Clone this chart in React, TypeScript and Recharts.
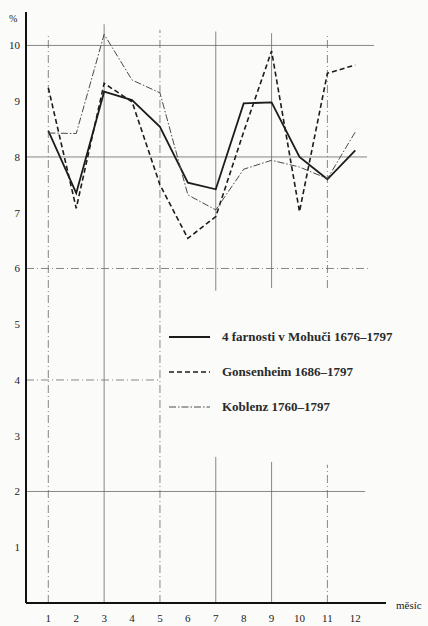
import { LineChart, Line, XAxis, YAxis, ReferenceLine } from 'recharts'

const months = [1, 2, 3, 4, 5, 6, 7, 8, 9, 10, 11, 12]
const mohuc = [8.47, 7.35, 9.17, 9.02, 8.54, 7.54, 7.42, 8.96, 8.98, 8.0, 7.6, 8.12]
const gonsenheim = [9.24, 7.08, 9.32, 8.99, 7.5, 6.54, 6.93, 8.45, 9.9, 7.02, 9.5, 9.65]
const koblenz = [8.43, 8.42, 10.2, 9.38, 9.15, 7.32, 7.05, 7.78, 7.94, 7.82, 7.61, 8.45]
const yTicks = [1, 2, 3, 4, 5, 6, 7, 8, 9, 10]
const seriesNames = ['4 farnosti v Mohuči 1676–1797', 'Gonsenheim 1686–1797', 'Koblenz 1760–1797']

const data = months.map((m, i) => ({
  month: m,
  mohuc: mohuc[i],
  gonsenheim: gonsenheim[i],
  koblenz: koblenz[i],
}))

const series = [
  { key: 'mohuc', name: seriesNames[0], dash: undefined, width: 1.8, color: '#1c1c1c' },
  { key: 'gonsenheim', name: seriesNames[1], dash: '5 3', width: 1.6, color: '#1c1c1c' },
  { key: 'koblenz', name: seriesNames[2], dash: '7 2 1.5 2', width: 1, color: '#4a4a4a' },
]

// grid is drawn as partial segments, like the printed original
const hGrid = [
  { y: 10, x1: 0.2, x2: 12.67, dash: undefined },
  { y: 8, x1: 0.2, x2: 12.42, dash: undefined },
  { y: 6, x1: 0.2, x2: 12.45, dash: '8 3 1 3' },
  { y: 4, x1: 0.2, x2: 5, dash: '8 3 1 3' },
  { y: 2, x1: 0.2, x2: 12.35, dash: undefined },
]
const vGrid = [
  { x: 1, y1: 0, y2: 10.2, dash: '8 3 1 3' },
  { x: 3, y1: 0, y2: 10.38, dash: undefined },
  { x: 5, y1: 0, y2: 10.28, dash: '8 3 1 3' },
  { x: 7, y1: 5.6, y2: 10.25, dash: undefined },
  { x: 7, y1: 0, y2: 2.62, dash: undefined },
  { x: 9, y1: 5.65, y2: 10.22, dash: undefined },
  { x: 9, y1: 0, y2: 2.53, dash: undefined },
  { x: 11, y1: 5.65, y2: 10.22, dash: '8 3 1 3' },
  { x: 11, y1: 0, y2: 2.48, dash: '8 3 1 3' },
]

const font = '"Liberation Serif", "DejaVu Serif", serif'

const XTick = ({ x, y, payload }: any) => (
  <text x={x} y={y + 11} textAnchor="middle" fontSize={11} fontFamily={font} fill="#222">
    {payload.value}
  </text>
)

const YTick = ({ y, payload }: any) => (
  <text x={20} y={y + 4} textAnchor="end" fontSize={11} fontFamily={font} fill="#222">
    {payload.value}
  </text>
)

const LegendBox = () => (
  <div style={{ position: 'absolute', left: 169, top: 329, width: 255, fontFamily: font }}>
    {series.map((s) => (
      <div key={s.key} style={{ display: 'flex', alignItems: 'center', height: 16, marginBottom: 19 }}>
        <svg width={44} height={6}>
          <line x1={0} y1={3} x2={41} y2={3} stroke={s.color} strokeWidth={s.width} strokeDasharray={s.dash} />
        </svg>
        <span style={{ marginLeft: 9, fontSize: 13, fontWeight: 700, color: '#2a2a2a' }}>{s.name}</span>
      </div>
    ))}
  </div>
)

export default function App() {
  return (
    <div style={{ position: 'absolute', left: 0, top: 0, width: 428, height: 626, background: '#fbfbfa' }}>
      <LineChart width={428} height={626} data={data} margin={{ top: 12, right: 42, bottom: 0, left: 0 }}>
        <XAxis
          dataKey="month"
          type="number"
          domain={[0.2, 13.1]}
          ticks={months}
          tick={<XTick />}
          tickLine={false}
          height={23}
          axisLine={{ stroke: '#111', strokeWidth: 2 }}
        />
        <YAxis
          type="number"
          domain={[0, 10.6]}
          ticks={yTicks}
          width={26}
          tick={<YTick />}
          tickLine={false}
          axisLine={{ stroke: '#111', strokeWidth: 2 }}
        />
        {hGrid.map((g, i) => (
          <ReferenceLine
            key={`h${i}`}
            segment={[{ x: g.x1, y: g.y }, { x: g.x2, y: g.y }]}
            stroke="#6a6a6a"
            strokeWidth={0.8}
            strokeDasharray={g.dash}
          />
        ))}
        {vGrid.map((g, i) => (
          <ReferenceLine
            key={`v${i}`}
            segment={[{ x: g.x, y: g.y1 }, { x: g.x, y: g.y2 }]}
            stroke="#6a6a6a"
            strokeWidth={0.8}
            strokeDasharray={g.dash}
          />
        ))}
        {series.map((s) => (
          <Line
            key={s.key}
            dataKey={s.key}
            name={s.name}
            stroke={s.color}
            strokeWidth={s.width}
            strokeDasharray={s.dash}
            dot={false}
            activeDot={false}
            isAnimationActive={false}
          />
        ))}
      </LineChart>
      <LegendBox />
      <div style={{ position: 'absolute', left: 9, top: 13, fontFamily: font, fontSize: 10, color: '#222' }}>%</div>
      <div style={{ position: 'absolute', left: 396, top: 599, fontFamily: font, fontSize: 11, color: '#222' }}>
        měsíc
      </div>
    </div>
  )
}
